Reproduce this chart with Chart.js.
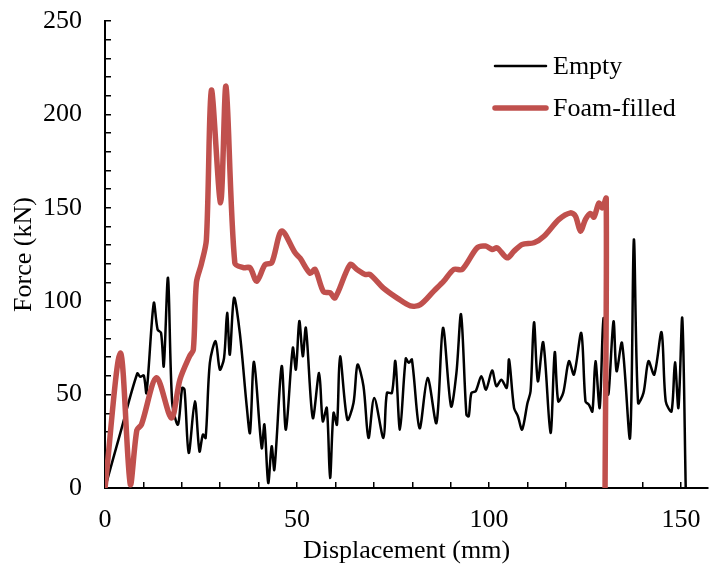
<!DOCTYPE html>
<html>
<head>
<meta charset="utf-8">
<script src="https://cdn.jsdelivr.net/npm/chart.js@4"></script>
<style>
  body { margin: 0; background: #fff; }
  canvas { display: block; }
</style>
</head>
<body>
<canvas id="chart" width="710" height="570"></canvas>
<script>
// Empty tube: displacement (mm) / force (kN)
const emptyX = [0, 4, 8.4, 9.2, 10.1, 10.8, 12.7, 13.7, 14.6, 15.3, 16.4, 17.5, 19, 20.1, 20.7, 21.8, 23.4, 24.6, 25.5, 26.2,
  27.3, 28.8, 29.9, 31, 31.8, 32.5, 33.6, 35.1, 36.9, 37.75, 38.8, 40.8, 41.5, 42.5, 43.4, 44.1, 46, 47.1, 48.9, 49.7,
  50.6, 51.5, 52.3, 54.1, 55.75, 56.7, 57.75, 58.6, 59.5, 60.4, 61.2, 63.1, 64.7, 65.75, 67.3, 68.6, 70.1, 72.5, 73.4, 74.7,
  75.6, 76.8, 78.3, 79.1, 79.9, 81.9, 84, 86.3, 88, 90.1, 91.5, 92.7, 94.1, 94.7, 95.4, 96.5, 98, 99.2, 100.8, 101.9,
  103.2, 104.6, 105.2, 106.5, 107.5, 108.6, 110, 110.8, 111.7, 112.7, 114.1, 116, 117.1, 118, 119.3, 120.8, 122.1, 124, 125.1, 126,
  126.9, 127.7, 128.8, 129.8, 131, 132.4, 133.2, 134.6, 136.7, 137.7, 138.8, 140.2, 141.5, 143, 144.9, 146, 147.5, 148.4, 149.3, 150.3,
  151.2];
const emptyY = [0, 29.5, 61.3, 59.5, 60.2, 50.9, 99, 84.8, 83, 65.2, 112.5, 45.5, 33.9, 53.6, 52.7, 18.75, 46.4, 19.6, 28.6, 26.8,
  67, 78.6, 63.4, 69.6, 93.75, 71.4, 101.8, 83, 43.75, 29.5, 67.5, 21.4, 34, 2.7, 22.3, 9.8, 65.2, 31.25, 75, 63.4,
  89.3, 70.5, 85.7, 37.5, 61.6, 35.7, 42.9, 5.4, 40.2, 33.9, 70.5, 36.6, 45.5, 66, 54.5, 26.8, 48.2, 26.8, 50.9, 50.9,
  67.9, 31.25, 69.3, 67, 68.75, 32, 58.9, 34.8, 85.7, 43.75, 61.6, 92.9, 39.3, 38.4, 50.9, 51.8, 59.8, 52.7, 62.9, 54.5,
  58, 53.6, 68.75, 42.9, 38.4, 31.25, 45.5, 51.8, 88.75, 57.1, 78, 29.5, 72.7, 46.4, 50.9, 67.9, 60.7, 83, 46.4, 44.6,
  41, 67.9, 42.9, 91, 50, 89.2, 62.5, 77.7, 26.8, 133, 45.5, 50.9, 67.9, 60.7, 83.4, 46.4, 41, 67.3, 42.9, 91,
  0];

// Foam-filled tube
const foamX = [0, 4, 6.6, 8.3, 9.5, 13.4, 17.3, 19.5, 22, 23, 23.8, 25.1, 26.4, 27.7, 30.1, 31.5, 33.8, 36, 37.75, 39.5,
  41.7, 43.4, 46, 49.5, 50.8, 53.4, 54.7, 56.9, 58.6, 59.9, 63.8, 65.6, 67.75, 69, 72.5, 76, 79.5, 82.1, 85.6, 88.2,
  90.8, 93, 96.9, 99.1, 100.8, 102.1, 104.7, 106.5, 108.6, 111.7, 114.3, 118.2, 121.2, 122.5, 123.8, 125.1, 126.4, 127.3, 128.6, 129.5,
  130.5, 130.2];
const foamY = [0, 72.3, 1.8, 31, 34, 59, 37.5, 58, 70.5, 74, 110, 120, 133, 213, 152.7, 215, 120.5, 118, 117.9, 110.7,
  119.6, 120.5, 137.5, 125.9, 123, 115, 117, 105, 104.5, 101.8, 119.6, 117, 114.3, 114.3, 107, 101.8, 97.5, 98.2, 105.4, 110.7,
  117, 117, 128.6, 129.5, 127.7, 128.6, 123.2, 126.8, 130.4, 131.3, 134.8, 143.8, 147.3, 145.5, 137.5, 143.8, 147, 145, 152.5, 150,
  155, 0];

const seriesLabels = ['Empty', 'Foam-filled'];
const xMax = 157;
const yMax = 250;

const toPoints = (xs, ys) => xs.map((x, i) => ({ x: x, y: ys[i] }));

const FONT = "'Liberation Serif', 'Times New Roman', serif";
Chart.defaults.font.family = FONT;
Chart.defaults.font.size = 26;
Chart.defaults.color = '#000';

// Leyenda dibujada a mano dentro del área de datos
const insideLegend = {
    id: 'insideLegend',
    afterDraw(chart) {
        const ctx = chart.ctx;
        const rows = [66, 108];
        ctx.save();
        chart.data.datasets.forEach((ds, i) => {
            const y = rows[i];
            ctx.strokeStyle = ds.borderColor;
            ctx.lineWidth = ds.borderWidth;
            ctx.lineCap = 'round';
            ctx.beginPath();
            ctx.moveTo(495, y);
            ctx.lineTo(546, y);
            ctx.stroke();
            ctx.fillStyle = '#000';
            ctx.font = '26px ' + FONT;
            ctx.textBaseline = 'middle';
            ctx.textAlign = 'left';
            ctx.fillText(ds.label, 553, y + 1);
        });
        ctx.restore();
    }
};

new Chart(document.getElementById('chart'), {
    type: 'line',
    data: {
        datasets: [{
            label: seriesLabels[0],
            data: toPoints(emptyX, emptyY),
            borderColor: '#000000',
            borderWidth: 2.5,
            pointRadius: 0,
            tension: 0.3,
            order: 2
        }, {
            label: seriesLabels[1],
            data: toPoints(foamX, foamY),
            borderColor: '#C0504D',
            borderWidth: 5.5,
            pointRadius: 0,
            tension: 0.3,
            order: 1
        }]
    },
    options: {
        responsive: false,
        animation: false,
        layout: { padding: { top: 21, right: 2, left: 0, bottom: 0 } },
        plugins: {
            legend: { display: false },
            tooltip: { enabled: false }
        },
        scales: {
            x: {
                type: 'linear',
                min: 0,
                max: xMax,
                border: { color: '#000', width: 2 },
                grid: { drawOnChartArea: false, drawTicks: true, tickLength: -6, color: '#000', lineWidth: 1.5 },
                ticks: {
                    stepSize: 10,
                    includeBounds: false,
                    padding: 23,
                    maxRotation: 0,
                    autoSkip: false,
                    callback: v => (v % 50 === 0 ? v : '')
                },
                title: { display: true, text: 'Displacement (mm)', padding: { top: 0, bottom: 3 } },
                afterFit: s => { s.height = 82; s.paddingLeft = 0; s.paddingRight = 0; }
            },
            y: {
                min: 0,
                max: yMax,
                border: { color: '#000', width: 2 },
                grid: { drawOnChartArea: false, drawTicks: true, tickLength: -6, color: '#000', lineWidth: 1.5 },
                ticks: {
                    stepSize: 10,
                    padding: 29,
                    autoSkip: false,
                    callback: v => (v % 50 === 0 ? v : '')
                },
                title: { display: true, text: 'Force (kN)', padding: { top: 9, bottom: 0 } },
                afterFit: s => { s.width = 105; s.paddingTop = 0; s.paddingBottom = 0; }
            }
        }
    },
    plugins: [insideLegend]
});
</script>
</body>
</html>
